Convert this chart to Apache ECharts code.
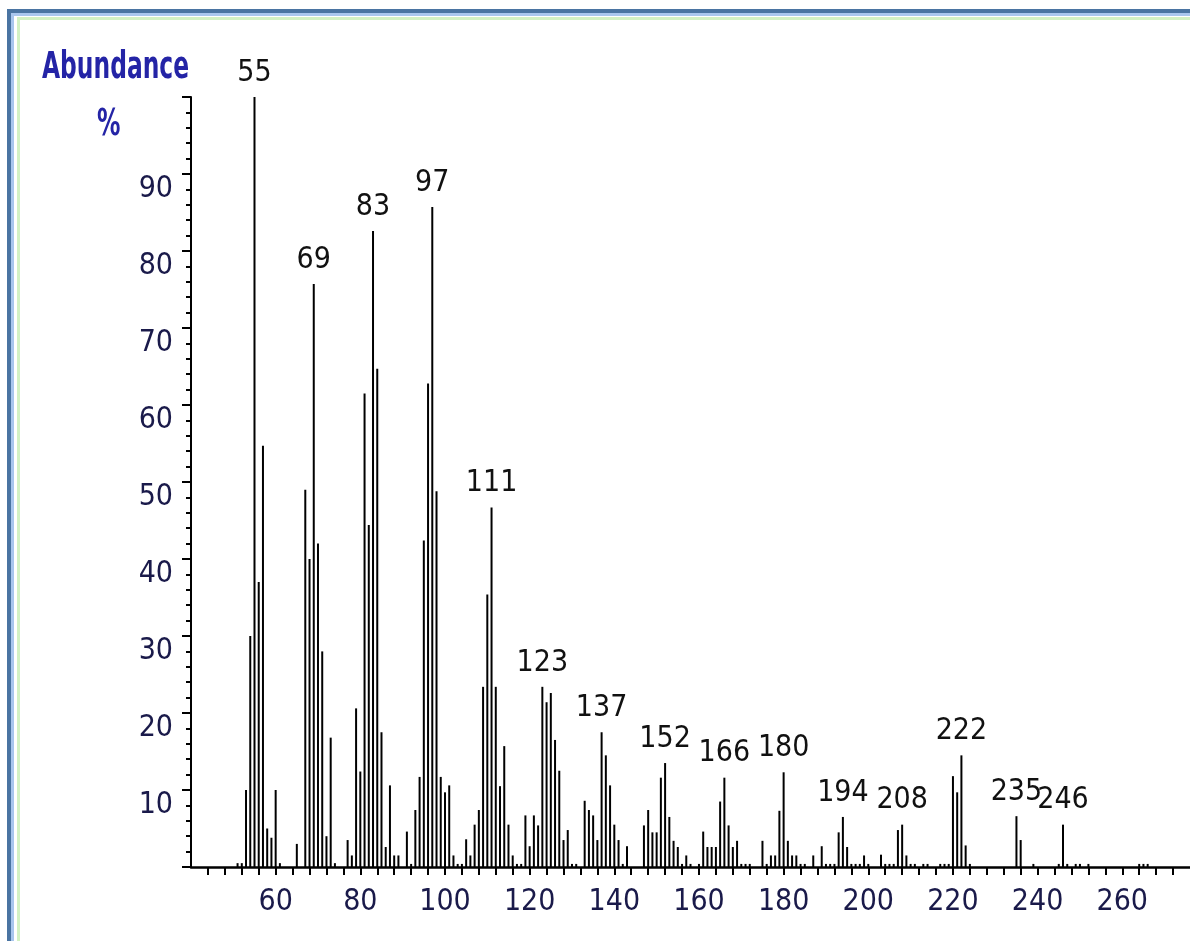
<!DOCTYPE html>
<html>
<head>
<meta charset="utf-8">
<script src="https://cdn.jsdelivr.net/npm/echarts@6/dist/echarts.min.js"></script>
<style>
html,body{margin:0;padding:0;background:#fff;}
#chart{width:1190px;height:941px;}
</style>
</head>
<body>
<div id="chart"></div>
<script>
// m/z values and relative abundances (%)
const mzValues = [51,52,53,54,55,56,57,58,59,60,61,65,67,68,69,70,71,72,73,74,
  77,78,79,80,81,82,83,84,85,86,87,88,89,91,92,93,94,95,96,97,98,99,100,101,102,103,104,
  105,106,107,108,109,110,111,112,113,114,115,116,117,118,119,120,121,122,123,124,125,126,127,128,129,130,131,
  133,134,135,136,137,138,139,140,141,142,143,147,148,149,150,151,152,153,154,155,156,157,158,
  160,161,162,163,164,165,166,167,168,169,170,171,172,175,176,177,178,179,180,181,182,183,184,185,187,
  189,190,191,192,193,194,195,196,197,198,199,200,203,204,205,206,207,208,209,210,211,213,214,
  217,218,219,220,221,222,223,224,235,236,239,245,246,247,249,250,252,264,265,266];
const abundances = [0.5,0.5,10,30,100,37,54.7,5,3.8,10,0.5,3,49,40,75.7,42,28,4,16.8,0.5,
  3.5,1.5,20.6,12.4,61.5,44.4,82.6,64.7,17.5,2.6,10.6,1.5,1.5,4.6,0.4,7.4,11.7,42.4,62.8,85.7,48.8,11.7,9.7,10.6,1.5,0.4,0.4,
  3.6,1.5,5.5,7.4,23.4,35.4,46.7,23.4,10.5,15.7,5.5,1.5,0.4,0.4,6.7,2.7,6.7,5.4,23.4,21.4,22.6,16.5,12.5,3.5,4.8,0.4,0.4,
  8.6,7.4,6.7,3.5,17.5,14.5,10.6,5.5,3.5,0.4,2.7,5.4,7.4,4.5,4.5,11.6,13.5,6.5,3.4,2.6,0.4,1.5,0.4,
  0.4,4.6,2.6,2.6,2.6,8.5,11.6,5.4,2.6,3.4,0.4,0.4,0.4,3.4,0.4,1.5,1.5,7.3,12.3,3.4,1.5,1.5,0.4,0.4,1.5,
  2.7,0.4,0.4,0.4,4.5,6.5,2.6,0.4,0.4,0.4,1.5,0.4,1.6,0.4,0.4,0.4,4.8,5.5,1.5,0.4,0.4,0.4,0.4,
  0.4,0.4,0.4,11.8,9.7,14.5,2.8,0.4,6.6,3.5,0.4,0.4,5.5,0.4,0.4,0.4,0.4,0.4,0.4,0.4];
const labeledPeaks = [55,69,83,97,111,123,137,152,166,180,194,208,222,235,246];
const xTickLabels = [60,80,100,120,140,160,180,200,220,240,260];
const yTickLabels = [10,20,30,40,50,60,70,80,90];

const xMinorTicks = [];
for (let v = 44; v <= 272; v += 4) xMinorTicks.push(v);

const FONT = '"Liberation Sans Narrow", "DejaVu Sans Condensed", "Arial Narrow", "Liberation Sans", sans-serif';
const labeledSet = new Set(labeledPeaks);
const seriesData = mzValues.map((m, i) => [m, abundances[i]]);

const chart = echarts.init(document.getElementById('chart'));
chart.setOption({
  backgroundColor: '#ffffff',
  animation: false,
  grid: { left: 191, right: 0, top: 97, bottom: 74, containLabel: false, outerBoundsMode: 'none' },
  xAxis: {
    type: 'value', min: 40, max: 276, interval: 20,
    axisLine: { show: true, lineStyle: { color: '#000', width: 2.5 } },
    axisTick: { show: true, customValues: xMinorTicks, length: 8, lineStyle: { color: '#000', width: 2 } },
    axisLabel: { customValues: xTickLabels, margin: 20, color: '#1a1a4a', fontSize: 30, fontFamily: FONT },
    splitLine: { show: false }
  },
  yAxis: {
    type: 'value', min: 0, max: 100, interval: 10,
    axisLine: { show: true, lineStyle: { color: '#000', width: 2 } },
    axisTick: { show: true, length: 9, lineStyle: { color: '#000', width: 2 } },
    minorTick: { show: true, splitNumber: 5, length: 5, lineStyle: { color: '#000', width: 2 } },
    axisLabel: { customValues: yTickLabels, margin: 18, verticalAlign: 'top', color: '#1a1a4a', fontSize: 30, fontFamily: FONT },
    splitLine: { show: false }
  },
  series: [{
    type: 'bar',
    data: seriesData,
    barWidth: 2,
    itemStyle: { color: '#000' },
    label: {
      show: true, position: 'top', distance: 9,
      color: '#111', fontSize: 30, fontFamily: FONT,
      formatter: p => labeledSet.has(p.value[0]) ? String(p.value[0]) : ''
    }
  }],
  graphic: [
    { type: 'rect', shape: { x: 7, y: 9, width: 1183, height: 4 }, style: { fill: '#4a74a2' }, silent: true },
    { type: 'rect', shape: { x: 7, y: 9, width: 4, height: 932 }, style: { fill: '#4a74a2' }, silent: true },
    { type: 'rect', shape: { x: 11, y: 13, width: 1179, height: 3 }, style: { fill: '#a9c6ee' }, silent: true },
    { type: 'rect', shape: { x: 11, y: 13, width: 3, height: 928 }, style: { fill: '#a9c6ee' }, silent: true },
    { type: 'rect', shape: { x: 17, y: 17, width: 1173, height: 3 }, style: { fill: '#d3f1c4' }, silent: true },
    { type: 'rect', shape: { x: 17, y: 17, width: 3, height: 924 }, style: { fill: '#d3f1c4' }, silent: true },
    { type: 'text', x: 42, y: 49, scaleY: 1.45, style: { text: 'Abundance', fill: '#2424a6', font: 'bold 26px ' + FONT, verticalAlign: 'top' } },
    { type: 'text', x: 97, y: 106, scaleY: 1.45, style: { text: '%', fill: '#2424a6', font: 'bold 26px ' + FONT, verticalAlign: 'top' } }
  ]
});
</script>
</body>
</html>
